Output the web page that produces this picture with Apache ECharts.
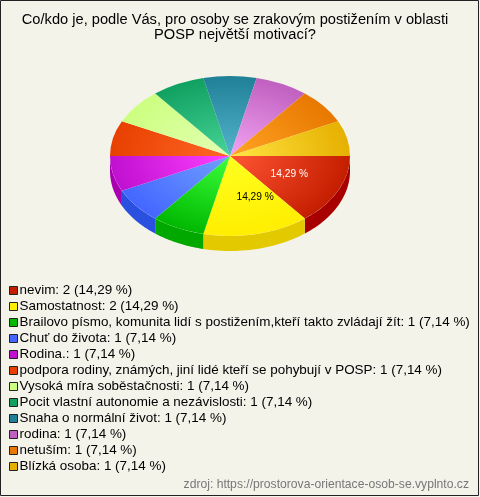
<!DOCTYPE html>
<html><head><meta charset="utf-8">
<style>html,body{margin:0;padding:0;background:#f4f3ea}#c{width:480px;height:497px}</style>
<script src="https://cdn.jsdelivr.net/npm/echarts@6/dist/echarts.min.js"></script></head>
<body><div id="c"></div>
<script>
const categories = ['nevim','Samostatnost','Brailovo písmo, komunita lidí s postižením,kteří takto zvládají žít','Chuť do života','Rodina.','podpora rodiny, známých, jiní lidé kteří se pohybují v POSP','Vysoká míra soběstačnosti','Pocit vlastní autonomie a nezávislosti','Snaha o normální život','rodina','netuším','Blízká osoba'];
const counts = [2,2,1,1,1,1,1,1,1,1,1,1];
const percents = ['14,29','14,29','7,14','7,14','7,14','7,14','7,14','7,14','7,14','7,14','7,14','7,14'];
const baseColors = ['#c41e00','#ffee00','#00b800','#4466ff','#c010d0','#e84000','#ccff80','#10a060','#208098','#c060c0','#e87800','#e6b000'];
const lightColors = ['#ff5535','#ffff20','#3cff3c','#70a0ff','#ff40ff','#ff6828','#e4ffb4','#48d498','#54b4cc','#f2a4f2','#ffa424','#ffe444'];
const wallColors = ['#a80000','#e3c900','#00a800','#2a50e0','#a800b0','#c83000','#a8d860','#008848','#106880','#a048a0','#c86000','#c49000'];
const title = 'Co/kdo je, podle Vás, pro osoby se zrakovým postižením v oblasti\nPOSP největší motivací?';
const source = 'zdroj: https://prostorova-orientace-osob-se.vyplnto.cz';

const total = counts.reduce((a,b)=>a+b,0);
const CX=230, CY=156, RX=120, RY=80, DEPTH=15;
let acc=0;
const angles = counts.map(v=>{const s=acc/total*2*Math.PI; acc+=v; return [s,acc/total*2*Math.PI];});
const legendNames = categories.map((c,i)=>c+': '+counts[i]+' ('+percents[i]+' %)');

const series = categories.map((c,i)=>({
  type:'custom', name:legendNames[i], coordinateSystem:'none', silent:true,
  itemStyle:{color:baseColors[i]}, data:[counts[i]],
  renderItem(){
    const [a,b]=angles[i], kids=[];
    const lo=Math.max(a,0), hi=Math.min(b,Math.PI);
    if(hi>lo){
      const top=[],bot=[];
      for(let k=0;k<=30;k++){const t=lo+(hi-lo)*k/30;
        top.push([CX+RX*Math.cos(t),CY+RY*Math.sin(t)]);
        bot.unshift([CX+RX*Math.cos(t),CY+RY*Math.sin(t)+DEPTH]);}
      kids.push({type:'polygon',shape:{points:top.concat(bot)},style:{fill:wallColors[i]}});
    }
    kids.push({type:'group',x:CX,y:CY,scaleY:RY/RX,children:[{type:'sector',
      shape:{cx:0,cy:0,r:RX,r0:0,startAngle:a,endAngle:b,clockwise:true},
      style:{fill:new echarts.graphic.RadialGradient(0,0,RX,[{offset:0,color:lightColors[i]},{offset:1,color:baseColors[i]}],true)}}]});
    if(counts[i]>=2){
      const m=(a+b)/2, off=i===1?11:2;
      kids.push({type:'text',x:CX+RX*.53*Math.cos(m)+off,y:CY+RY*.53*Math.sin(m),z2:10,
        style:{text:percents[i]+' %',font:'10.2px "Liberation Sans"',fill:i===0?'#fff':'#000',align:'center',verticalAlign:'middle'}});
    }
    return {type:'group',children:kids};
  }
}));

const chart=echarts.init(document.getElementById('c'),null,{renderer:'canvas'});
chart.setOption({
  animation:false, backgroundColor:'#f4f3ea',
  title:[
    {text:title,left:230,top:7,textAlign:'center',textStyle:{fontFamily:'Liberation Sans',fontSize:14.65,fontWeight:'normal',color:'#000',lineHeight:15}},
    {text:source,right:6,top:474,textStyle:{fontFamily:'Liberation Sans',fontSize:12.15,fontWeight:'normal',color:'#777'}}
  ],
  legend:{orient:'vertical',left:9,top:284,padding:0,itemWidth:8,itemHeight:8,itemGap:3,icon:'rect',selectedMode:false,
    data:legendNames,textStyle:{fontFamily:'Liberation Sans',fontSize:13.45,color:'#000',padding:[0,0,0,-3],lineHeight:11},
    itemStyle:{borderColor:'#222',borderWidth:1}},
  graphic:[{type:'rect',z:100,shape:{x:.5,y:.5,width:478,height:495},style:{fill:'none',stroke:'#222',lineWidth:1}}],
  series
});
</script></body></html>
